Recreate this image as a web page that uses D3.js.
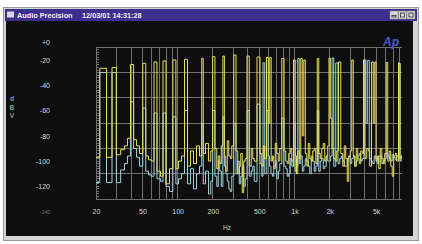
<!DOCTYPE html>
<html>
<head>
<meta charset="utf-8">
<script src="https://cdn.jsdelivr.net/npm/d3@7"></script>
<style>
  html, body { margin: 0; padding: 0; background: #fff; overflow: hidden; }
</style>
</head>
<body>
<div id="chart"></div>
<script>
const W = 422, H = 244;

// grid lines and tick labels
const xGridHz = [20, 30, 40, 50, 60, 70, 80, 90, 100, 200, 300, 400, 500, 600, 700, 800, 900,
  1000, 2000, 3000, 4000, 5000, 6000, 7000, 8000];
const xTickHz = [20, 50, 100, 200, 500, 1000, 2000, 5000];
const xTickText = ["20", "50", "100", "200", "500", "1k", "2k", "5k"];
const yGridDb = [-10, -30, -50, -70, -90, -110, -130];
const yTickDb = [-6, -20, -40, -60, -80, -100, -120, -140];
const yTickText = ["+0", "-20", "-40", "-60", "-80", "-100", "-120", "-140"];

// channel A (yellow): noise floor and tones, [Hz, dBV]
const yellowFloor = [[20,-97],[26.1,-97],[31,-95],[34.1,-91],[36.1,-88],[38.3,-82],[43.2,-83],[45.8,-88],
  [48.6,-94],[54.7,-96],[58,-99],[61.5,-100],[69.2,-108],[73.5,-112],[82.7,-118],[87.7,-106],[98.8,-106],
  [104.8,-100],[111.2,-96],[125.2,-104],[132.8,-92],[140.8,-102],[149.4,-88],[158.5,-96],[168.2,-94],
  [178.4,-86],[189.3,-100],[195,-92],[213.1,-90],[219.5,-106],[226.1,-96],[232.9,-102],[239.8,-88],
  [254.5,-96],[262,-108],[270,-84],[278,-96],[286.4,-98],[295,-88],[322.4,-92],[332,-110],[342,-104],
  [352,-94],[362.8,-125],[373,-100],[385,-98],[420,-104],[433.3,-90],[446,-98],[459.7,-100],[517.4,-94],
  [533,-104],[548.9,-88],[565,-98],[605.6,-70],[640,-100],[655.4,-96],[675,-106],[695.3,-86],[716,-94],
  [737.7,-100],[760,-90],[830.3,-92],[855,-100],[880.8,-102],[907,-94],[934.5,-90],[963,-104],[1030,-96],
  [1052,-110],[1084,-92],[1116,-98],[1184,-80],[1256,-94],[1294,-104],[1332,-86],[1372,-98],[1413,-100],
  [1456,-92],[1500,-90],[1545,-102],[1638,-94],[1688,-98],[1738,-90],[1790,-86],[1844,-100],[1900,-96],
  [1955,-88],[2060,-66],[2138,-90],[2202,-98],[2268,-100],[2336,-92],[2553,-94],[2630,-104],[2708,-88],
  [2790,-98],[2873,-116],[2960,-96],[3048,-92],[3234,-96],[3331,-104],[3431,-90],[3534,-98],[3640,-102],
  [3750,-92],[3861,-94],[4096,-98],[4219,-90],[4346,-92],[4476,-104],[4798,-70],[5039,-100],[5189,-96],
  [5345,-106],[5505,-90],[5670,-98],[5840,-102],[6015,-94],[6380,-100],[6573,-92],[6770,-104],[6973,-112],
  [7182,-96],[7398,-94],[7620,-100],[8100,-98],[8326,-96]];
const yellowTones = [[23.2,-26.6],[28.8,-26],[40.8,-23.6],[52,-22.7],[64,-21.6],[76.4,-20.8],[94.4,-20],
  [117.9,-19.5],[163.2,-18.7],[204,-17.4],[248,-16.9],[309.8,-16.1],[400,-16.9],[497,-17.7],[588,-18],
  [624,-18],[798,-18.9],[1001,-20],[1149,-18.9],[1220,-20],[1591,-18.9],[1996,-18.5],[2432,-21.6],
  [3140,-20],[3940,-20],[4658,-21.6],[4944,-21.6],[6196,-22],[7934,-22.4]];

// channel B (cyan)
const cyanFloor = [[20,-117],[26.1,-117],[31,-117],[34.1,-107],[36.1,-102],[38.3,-96],[43.2,-90],[45.8,-97],
  [48.6,-104],[54.7,-108],[58,-111],[61.5,-112],[69.2,-114],[73.5,-116],[82.7,-120],[87.7,-124],[98.8,-118],
  [104.8,-114],[111.2,-110],[125.2,-118],[132.8,-106],[140.8,-122],[149.4,-110],[158.5,-104],[168.2,-118],
  [178.4,-108],[189.3,-126],[195,-116],[213.1,-112],[219.5,-120],[226.1,-100],[232.9,-108],[239.8,-120],
  [254.5,-104],[262,-110],[270,-116],[278,-122],[286.4,-124],[295,-112],[322.4,-110],[332,-100],[342,-118],
  [352,-112],[362.8,-104],[373,-120],[385,-114],[420,-112],[433.3,-108],[446,-104],[459.7,-116],[517.4,-102],
  [533,-112],[571,-110],[605.6,-96],[617.8,-104],[640,-110],[655.4,-112],[675,-104],[695.3,-100],[716,-114],
  [737.7,-108],[760,-102],[830.3,-104],[855,-106],[880.8,-112],[907,-110],[934.5,-98],[963,-100],
  [1030,-108],[1052,-104],[1116,-102],[1150,-96],[1184,-108],[1220,-104],[1256,-98],[1294,-100],
  [1332,-104],[1372,-110],[1413,-96],[1456,-100],[1500,-108],[1545,-104],[1638,-108],[1688,-100],
  [1738,-98],[1790,-106],[1844,-104],[1900,-96],[1955,-100],[2015,-100],[2060,-96],[2202,-104],[2406,-102],
  [2480,-98],[2553,-96],[2630,-100],[2708,-104],[2790,-104],[2873,-98],[2960,-96],[3048,-102],[3140,-98],
  [3234,-96],[3331,-104],[3431,-100],[3534,-96],[3640,-94],[3750,-100],[3861,-98],[4143,-70],[4476,-98],
  [4610,-100],[4750,-102],[4891,-96],[5039,-98],[5189,-102],[5345,-96],[5505,-96],[5670,-102],[5840,-100],
  [6015,-98],[6196,-94],[6380,-96],[6573,-98],[6770,-100],[6973,-95],[7182,-97],[7398,-99],[7620,-96],
  [8100,-100],[8326,-96]];
const cyanTones = [[23.2,-30],[28.8,-30],[40.8,-53],[52,-58],[64,-62],[76.4,-62],[94.4,-65],[117.9,-60],
  [163.2,-70],[204,-60],[248,-65],[309.8,-70],[400,-60],[497,-55],[543,-22.3],[588,-60],[798,-66],
  [1001,-70],[1083,-18.9],[1591,-60],[2138,-18.5],[2314,-22.4],[4020,-20],[4266,-20.5],[7934,-23]];

const FONT = "'Liberation Sans', Arial, sans-serif";
const GRID = "#707070";
const PLOT = { left: 96, right: 402, top: 47.3, bottom: 199 };

const svg = d3.select("#chart").append("svg")
  .attr("width", W)
  .attr("height", H)
  .attr("viewBox", `0 0 ${W} ${H}`);

svg.append("rect").attr("width", W).attr("height", H).attr("fill", "#fff");

// window frame
svg.append("rect")
  .attr("x", 3.5).attr("y", 7.5).attr("width", 415).attr("height", 233)
  .attr("fill", "#d4d4d4").attr("stroke", "#9a9a9a");
// title bar
svg.append("rect")
  .attr("x", 5).attr("y", 9).attr("width", 412).attr("height", 12)
  .attr("fill", "#3d2f8e");
svg.append("rect")
  .attr("x", 7).attr("y", 11.5).attr("width", 7).attr("height", 6)
  .attr("fill", "#d8d8e8");
svg.append("text")
  .attr("x", 17).attr("y", 18)
  .attr("font-family", FONT).attr("font-size", "7.3px").attr("font-weight", "bold")
  .attr("fill", "#f0f0ff")
  .text("Audio Precision");
svg.append("text")
  .attr("x", 82).attr("y", 18)
  .attr("font-family", FONT).attr("font-size", "7.3px").attr("font-weight", "bold")
  .attr("fill", "#f0f0ff")
  .text("12/03/01 14:31:28");

// title buttons
[390, 398.5, 407].forEach((bx, i) => {
  svg.append("rect")
    .attr("x", bx).attr("y", 11).attr("width", 8).attr("height", 8)
    .attr("fill", "#d6d6d6").attr("stroke", "#888").attr("stroke-width", 0.5);
  svg.append("rect")
    .attr("x", bx + 2).attr("y", i === 0 ? 15.5 : 13).attr("width", 4).attr("height", i === 0 ? 1.5 : 4)
    .attr("fill", "none").attr("stroke", "#333").attr("stroke-width", 0.8);
});

// dark body
svg.append("rect")
  .attr("x", 6).attr("y", 21).attr("width", 407).attr("height", 215)
  .attr("fill", "#0e0e0e");

// scales
const x = d3.scaleLog()
  .domain([20, 8330])
  .range([PLOT.left, PLOT.right]);
const y = d3.scaleLinear()
  .domain([-10, -130])
  .range([PLOT.top, PLOT.bottom]);

// grid
const grid = svg.append("g")
  .attr("stroke", GRID).attr("stroke-width", 1).attr("shape-rendering", "crispEdges");
grid.selectAll(".vg").data(xGridHz).enter().append("line")
  .attr("x1", d => x(d)).attr("x2", d => x(d))
  .attr("y1", PLOT.top).attr("y2", PLOT.bottom);
grid.selectAll(".hg").data(yGridDb).enter().append("line")
  .attr("x1", PLOT.left).attr("x2", PLOT.right)
  .attr("y1", d => y(d)).attr("y2", d => y(d));
// small ticks on left edge
grid.selectAll(".mt").data(d3.range(-128, -10, 2)).enter().append("line")
  .attr("x1", PLOT.left).attr("x2", PLOT.left + 3)
  .attr("y1", d => y(d)).attr("y2", d => y(d));

// axes labels
const yAxis = svg.append("g")
  .attr("transform", `translate(${PLOT.left},0)`)
  .call(d3.axisLeft(y)
    .tickValues(yTickDb)
    .tickFormat((d, i) => yTickText[i])
    .tickSize(0)
    .tickPadding(46));
yAxis.select(".domain").remove();
yAxis.selectAll("text")
  .attr("font-family", FONT).attr("font-size", "7px").attr("fill", "#d8d8d8");
yAxis.selectAll(".tick").filter(d => d === -140).select("text")
  .attr("font-size", "5px").attr("fill", "#777");

const xAxis = svg.append("g")
  .attr("transform", `translate(0,${PLOT.bottom})`)
  .call(d3.axisBottom(x)
    .tickValues(xTickHz)
    .tickFormat((d, i) => xTickText[i])
    .tickSize(0)
    .tickPadding(10));
xAxis.select(".domain").remove();
xAxis.selectAll("text")
  .attr("font-family", FONT).attr("font-size", "7px").attr("fill", "#d8d8d8");

svg.append("text")
  .attr("x", 227).attr("y", 229.5)
  .attr("text-anchor", "middle")
  .attr("font-family", FONT).attr("font-size", "6.5px").attr("fill", "#d0d0d0")
  .text("Hz");

// unit label, letters stacked
svg.append("g").selectAll("text")
  .data(["d", "B", "V"])
  .enter().append("text")
  .attr("x", 12)
  .attr("y", (d, i) => 101 + i * 8.5)
  .attr("text-anchor", "middle")
  .attr("font-family", FONT).attr("font-size", "6.5px").attr("fill", "#d0d0d0")
  .text(d => d);

// traces
svg.append("clipPath").attr("id", "plotClip")
  .append("rect")
  .attr("x", PLOT.left).attr("y", PLOT.top - 2)
  .attr("width", PLOT.right - PLOT.left).attr("height", PLOT.bottom - PLOT.top + 2);

const line = d3.line()
  .x(d => x(d[0]))
  .y(d => y(d[1]))
  .curve(d3.curveStep);

const cyan = cyanFloor.concat(cyanTones).sort((a, b) => a[0] - b[0]);
const yellow = yellowFloor.concat(yellowTones).sort((a, b) => a[0] - b[0]);

svg.append("path")
  .datum(cyan)
  .attr("clip-path", "url(#plotClip)")
  .attr("fill", "none")
  .attr("stroke", "#9fd4de")
  .attr("stroke-width", 1)
  .attr("d", line);

svg.append("path")
  .datum(yellow)
  .attr("clip-path", "url(#plotClip)")
  .attr("fill", "none")
  .attr("stroke", "#e6df58")
  .attr("stroke-width", 1)
  .attr("d", line);

// logo
svg.append("text")
  .attr("x", 391).attr("y", 46)
  .attr("text-anchor", "middle")
  .attr("font-family", FONT).attr("font-size", "12px")
  .attr("font-style", "italic").attr("font-weight", "bold")
  .attr("fill", "#4d57c8")
  .text("Ap");
</script>
</body>
</html>
